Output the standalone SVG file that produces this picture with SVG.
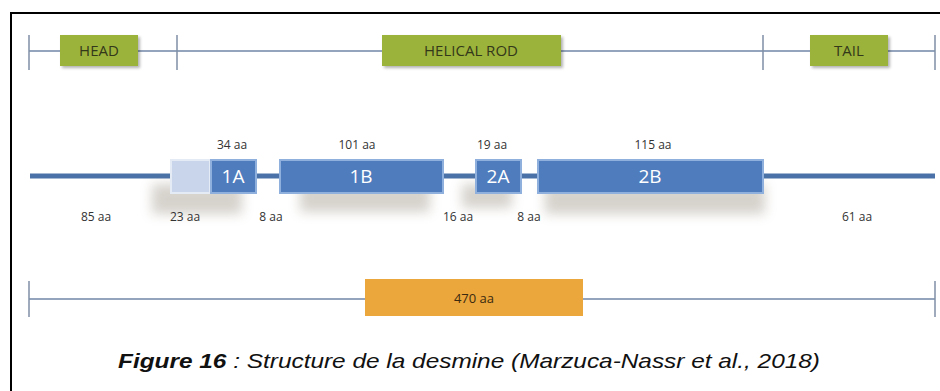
<svg xmlns="http://www.w3.org/2000/svg" width="940" height="391" viewBox="0 0 940 391">
<defs>
<style>
.tick{stroke:#7f8fa6;stroke-width:1.5;fill:none}
.thin{stroke:#6f86a6;stroke-width:1.5;fill:none}
.rod{stroke:#4a72a8;stroke-width:5;fill:none}
.green{fill:#9cb33a}
.gl{font-family:"Open Sans","Liberation Sans",sans-serif;font-size:15px;fill:#33381a;text-anchor:middle}
.blue{fill:#4e7cbd;stroke:#8fb0dd;stroke-width:2}
.bl{font-family:"Open Sans","Liberation Sans",sans-serif;font-size:19px;fill:#ffffff;text-anchor:middle}
.aa{font-family:"Open Sans","Liberation Sans",sans-serif;font-size:12px;fill:#333333;text-anchor:middle}
.cap{font-family:"Liberation Sans","Open Sans",sans-serif;font-size:21px;fill:#111111;font-style:italic}
</style>
<filter id="sh" x="-30%" y="-80%" width="160%" height="260%"><feGaussianBlur stdDeviation="6"/></filter>
<filter id="gs" x="-10%" y="-20%" width="130%" height="150%"><feDropShadow dx="2" dy="2" stdDeviation="1.5" flood-color="#000" flood-opacity="0.3"/></filter>
</defs>
<rect x="0" y="0" width="940" height="391" fill="#ffffff"/>
<path d="M11 391 V13 H940" stroke="#000" stroke-width="2" fill="none"/>

<g id="connectors">
<line class="thin" x1="29" y1="51" x2="60" y2="51"/>
<line class="thin" x1="138" y1="51" x2="382" y2="51"/>
<line class="thin" x1="561" y1="51" x2="810" y2="51"/>
<line class="thin" x1="888" y1="51" x2="935" y2="51"/>
<line class="tick" x1="29" y1="35" x2="29" y2="70"/>
<line class="tick" x1="177" y1="35" x2="177" y2="70"/>
<line class="tick" x1="763" y1="35" x2="763" y2="70"/>
<line class="tick" x1="935" y1="35" x2="935" y2="70"/>
<line class="rod" x1="30" y1="176" x2="172" y2="176"/>
<line class="rod" x1="256" y1="176" x2="280" y2="176"/>
<line class="rod" x1="443" y1="176" x2="476" y2="176"/>
<line class="rod" x1="521" y1="176" x2="538" y2="176"/>
<line class="rod" x1="763" y1="176" x2="935" y2="176"/>
<line class="thin" x1="29" y1="299" x2="365" y2="299"/>
<line class="thin" x1="583" y1="299" x2="935" y2="299"/>
<line class="tick" x1="29" y1="281" x2="29" y2="317"/>
<line class="tick" x1="935" y1="281" x2="935" y2="317"/>
</g>

<g id="shadows" opacity="0.35">
<rect x="152" y="184" width="90" height="30" fill="#8a8070" filter="url(#sh)"/>
<rect x="300" y="184" width="130" height="28" fill="#8a8070" filter="url(#sh)"/>
<rect x="462" y="184" width="50" height="24" fill="#8a8070" filter="url(#sh)"/>
<rect x="545" y="184" width="220" height="30" fill="#8a8070" filter="url(#sh)"/>
</g>

<g id="head"><rect class="green" x="60" y="35" width="78" height="31" filter="url(#gs)"/><text class="gl" x="99" y="56">HEAD</text></g>
<g id="helical-rod"><rect class="green" x="382" y="35" width="179" height="31" filter="url(#gs)"/><text class="gl" x="471" y="56">HELICAL ROD</text></g>
<g id="tail"><rect class="green" x="810" y="35" width="78" height="31" filter="url(#gs)"/><text class="gl" x="849" y="56">TAIL</text></g>

<g id="seg-head23"><rect x="171" y="160" width="39" height="33" fill="#c9d5ea" stroke="#e4ebf5" stroke-width="2"/></g>
<g id="seg-1A"><rect class="blue" x="211" y="160" width="45" height="33"/><text class="bl" x="233" y="183">1A</text></g>
<g id="seg-1B"><rect class="blue" x="280" y="160" width="163" height="33"/><text class="bl" x="361" y="183">1B</text></g>
<g id="seg-2A"><rect class="blue" x="476" y="160" width="45" height="33"/><text class="bl" x="498" y="183">2A</text></g>
<g id="seg-2B"><rect class="blue" x="538" y="160" width="225" height="33"/><text class="bl" x="650" y="183">2B</text></g>

<g id="labels">
<text class="aa" x="232" y="149">34 aa</text>
<text class="aa" x="357" y="149">101 aa</text>
<text class="aa" x="492" y="149">19 aa</text>
<text class="aa" x="653" y="149">115 aa</text>
<text class="aa" x="96" y="221">85 aa</text>
<text class="aa" x="185" y="221">23 aa</text>
<text class="aa" x="271" y="221">8 aa</text>
<text class="aa" x="458" y="221">16 aa</text>
<text class="aa" x="529" y="221">8 aa</text>
<text class="aa" x="857" y="221">61 aa</text>
</g>

<g id="total"><rect x="365" y="279" width="218" height="37" fill="#eba63c"/><text class="aa" x="474" y="303" style="font-size:13px;fill:#3a2a10">470 aa</text></g>

<text class="cap" x="118" y="368" textLength="702" lengthAdjust="spacingAndGlyphs"><tspan font-weight="bold">Figure 16</tspan> : Structure de la desmine (Marzuca-Nassr et al., 2018)</text>
</svg>
